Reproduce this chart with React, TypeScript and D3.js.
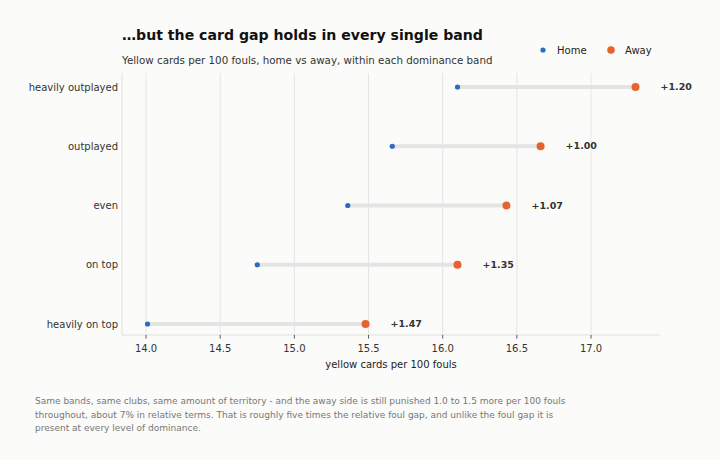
import React from "react";
import * as d3 from "d3";

const bands = ["heavily outplayed", "outplayed", "even", "on top", "heavily on top"];
const homeValues = [16.10, 15.66, 15.36, 14.75, 14.01];
const awayValues = [17.30, 16.66, 16.43, 16.10, 15.48];
const gapLabels = ["+1.20", "+1.00", "+1.07", "+1.35", "+1.47"];
const xTicks = [14.0, 14.5, 15.0, 15.5, 16.0, 16.5, 17.0];
const footnote = [
    "Same bands, same clubs, same amount of territory - and the away side is still punished 1.0 to 1.5 more per 100 fouls",
    "throughout, about 7% in relative terms. That is roughly five times the relative foul gap, and unlike the foul gap it is",
    "present at every level of dominance.",
];

const HOME = "#2a6bc4";
const AWAY = "#e5632f";
const FONT = "'DejaVu Sans', sans-serif";

const App: React.FC = () => {
    const width = 720;
    const height = 460;
    const margin = {top: 73, right: 60, bottom: 125, left: 122};
    const innerWidth = width - margin.left - margin.right;
    const innerHeight = height - margin.top - margin.bottom;

    const x = d3.scaleLinear().domain([13.838, 17.465]).range([0, innerWidth]);
    // rows sit close to the top/bottom spines
    const y = d3.scalePoint<string>().domain(bands).range([14, innerHeight - 11]);

    return (
        <svg width={width} height={height} style={{position: "absolute", left: 0, top: 0, background: "#fbfbf9"}}
             fontFamily={FONT}>
            <rect width={width} height={height} fill="#fbfbf9"/>
            <text x={122} y={40} fontSize={14.1} fontWeight="bold" fill="#111">…but the card gap holds in every single band</text>
            <text x={122} y={64} fontSize={10.3} fill="#333">Yellow cards per 100 fouls, home vs away, within each dominance band</text>

            {/* legend */}
            <circle cx={543} cy={50} r={2.6} fill={HOME}/>
            <text x={557} y={53.5} fontSize={10} fill="#222">Home</text>
            <circle cx={611} cy={50} r={3.8} fill={AWAY}/>
            <text x={625} y={53.5} fontSize={10} fill="#222">Away</text>

            <g transform={`translate(${margin.left},${margin.top})`}>
                {xTicks.map(t => (
                    <line key={t} x1={x(t)} x2={x(t)} y1={0} y2={innerHeight} stroke="#e2e2e2" strokeWidth={0.9}/>
                ))}
                <line x1={0} x2={0} y1={0} y2={innerHeight} stroke="#dcdcdc" strokeWidth={0.9}/>
                <line x1={0} x2={innerWidth} y1={innerHeight} y2={innerHeight} stroke="#dcdcdc" strokeWidth={0.9}/>
                {xTicks.map(t => (
                    <g key={t} transform={`translate(${x(t)},${innerHeight})`}>
                        <line y1={0} y2={3.5} stroke="#444" strokeWidth={0.9}/>
                        <text y={17} textAnchor="middle" fontSize={10} fill="#333">{t.toFixed(1)}</text>
                    </g>
                ))}
                <text x={innerWidth / 2} y={innerHeight + 33} textAnchor="middle" fontSize={10} fill="#222">
                    yellow cards per 100 fouls
                </text>

                {bands.map((b, i) => {
                    const cy = y(b)!;
                    return (
                        <g key={b}>
                            <text x={-4} y={cy + 3.5} textAnchor="end" fontSize={10} fill="#333">{b}</text>
                            <line x1={x(homeValues[i])} x2={x(awayValues[i])} y1={cy} y2={cy}
                                  stroke="#e4e4e4" strokeWidth={4} strokeLinecap="round"/>
                            <circle cx={x(homeValues[i])} cy={cy} r={2.6} fill={HOME}/>
                            <circle cx={x(awayValues[i])} cy={cy} r={4} fill={AWAY}/>
                            <text x={x(awayValues[i]) + 25} y={cy + 3} fontSize={9.5} fontWeight="bold" fill="#333">
                                {gapLabels[i]}
                            </text>
                        </g>
                    );
                })}
            </g>

            {footnote.map((line, i) => (
                <text key={i} x={35} y={404 + i * 13.5} fontSize={9} fill="#777">{line}</text>
            ))}
        </svg>
    );
};

export default App;
